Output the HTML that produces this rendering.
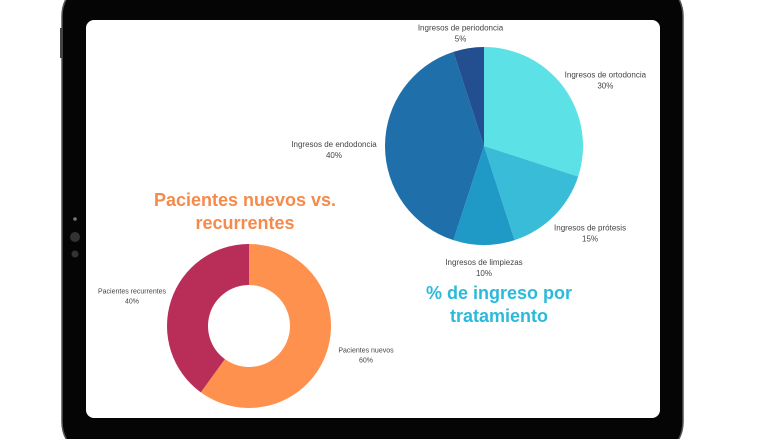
<!DOCTYPE html>
<html><head><meta charset="utf-8"><style>
html,body{margin:0;padding:0;background:#fff;width:781px;height:439px;overflow:hidden}
svg{display:block}
text{font-family:"Liberation Sans",sans-serif}
</style></head><body>
<svg id="c" width="781" height="439" viewBox="0 0 781 439">
<rect x="62" y="-20" width="621" height="478" rx="36" fill="#050505" stroke="#555" stroke-width="1.5"/>
<rect x="60" y="28" width="3" height="30" fill="#444"/>
<circle cx="75" cy="219" r="1.8" fill="#777"/>
<circle cx="75" cy="237" r="5" fill="#333"/>
<circle cx="75" cy="254" r="3.5" fill="#333"/>
<rect x="86" y="20" width="574" height="398" rx="8" fill="#fff"/>
<g id="pie"></g>
<g id="donut"></g>
<text x="245" y="206" text-anchor="middle" font-size="18" font-weight="bold" fill="#f58a4b">Pacientes nuevos vs.</text>
<text x="245" y="229" text-anchor="middle" font-size="18" font-weight="bold" fill="#f58a4b">recurrentes</text>
<text x="499" y="299" text-anchor="middle" font-size="18" font-weight="bold" fill="#2bbad9">% de ingreso por</text>
<text x="499" y="322" text-anchor="middle" font-size="18" font-weight="bold" fill="#2bbad9">tratamiento</text>
</svg>
<script>
const pieLabels=["Ingresos de ortodoncia","Ingresos de prótesis","Ingresos de limpiezas","Ingresos de endodoncia","Ingresos de periodoncia"];
const pieValues=[30,15,10,40,5];
const pieColors=["#5ce1e6","#38bcd8","#1f9ac6","#1f6fab","#234e8f"];
const donutLabels=["Pacientes nuevos","Pacientes recurrentes"];
const donutValues=[60,40];
const donutColors=["#fe914d","#b82e58"];
const NS="http://www.w3.org/2000/svg";
function pt(cx,cy,r,a){return [cx+r*Math.sin(a),cy-r*Math.cos(a)];}
function draw(g,labels,vals,cols,cx,cy,R,ri,lrx,lry,dy,fs,name){
  const tot=vals.reduce((a,b)=>a+b,0);let a0=0;
  vals.forEach((v,i)=>{
    const a1=a0+v/tot*2*Math.PI,lg=(a1-a0)>Math.PI?1:0;
    const p0=pt(cx,cy,R,a0),p1=pt(cx,cy,R,a1);
    let d;
    if(ri>0){const q1=pt(cx,cy,ri,a1),q0=pt(cx,cy,ri,a0);
      d=`M${p0}A${R},${R} 0 ${lg} 1 ${p1}L${q1}A${ri},${ri} 0 ${lg} 0 ${q0}Z`;}
    else d=`M${cx},${cy}L${p0}A${R},${R} 0 ${lg} 1 ${p1}Z`;
    const p=document.createElementNS(NS,"path");p.setAttribute("d",d);p.setAttribute("fill",cols[i]);
    
    
    g.appendChild(p);
    const m=(a0+a1)/2,lx=cx+lrx*Math.sin(m),ly=cy-lry*Math.cos(m);
    [labels[i],v+"%"].forEach((s,k)=>{
      const t=document.createElementNS(NS,"text");t.setAttribute("x",lx);t.setAttribute("y",ly+dy+k*(fs+3));
      t.setAttribute("text-anchor","middle");t.setAttribute("font-size",fs);t.setAttribute("fill","#444");t.textContent=s;
      
      
      g.appendChild(t);});
    a0=a1;});
}
draw(document.getElementById("pie"),pieLabels,pieValues,pieColors,484,146,99,0,150,118,1,8,"pie");
draw(document.getElementById("donut"),donutLabels,donutValues,donutColors,249,326,82,41,123,95,-3,7,"donut");
</script>
</body></html>
